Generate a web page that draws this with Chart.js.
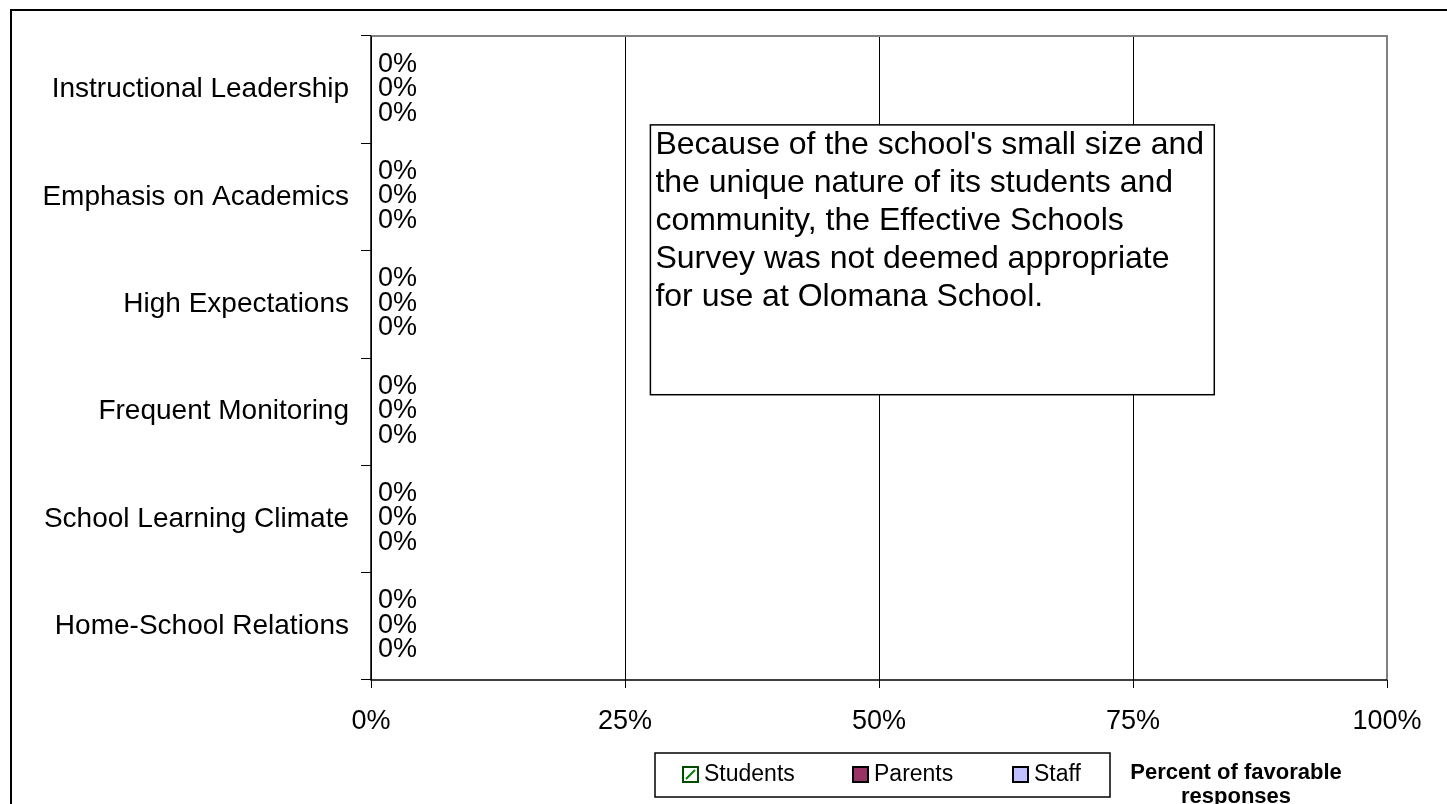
<!DOCTYPE html>
<html>
<head>
<meta charset="utf-8">
<title>Effective Schools Survey</title>
<script src="https://cdn.jsdelivr.net/npm/chart.js@4.4.1/dist/chart.umd.min.js"></script>
<style>
  html, body { margin: 0; padding: 0; background: #fff; overflow: hidden; }
  #chart { display: block; }
</style>
</head>
<body>
<canvas id="chart" width="1447" height="804"></canvas>
<script>
// categories (top to bottom)
const categories = [
  'Instructional Leadership',
  'Emphasis on Academics',
  'High Expectations',
  'Frequent Monitoring',
  'School Learning Climate',
  'Home-School Relations'
];

// series values (fraction of favorable responses)
const students = [0, 0, 0, 0, 0, 0];
const parents  = [0, 0, 0, 0, 0, 0];
const staff    = [0, 0, 0, 0, 0, 0];

// x axis ticks
const xTicks = [0, 0.25, 0.5, 0.75, 1];

const noteLines = [
  "Because of the school's small size and",
  'the unique nature of its students and',
  'community, the Effective Schools',
  'Survey was not deemed appropriate',
  'for use at Olomana School.'
];

const FONT = '"Liberation Sans", Arial, sans-serif';

// outer frame + plot border (gray top/right, black left/bottom axes)
const framePlugin = {
  id: 'frame',
  beforeDraw(chart) {
    const c = chart.ctx;
    c.save();
    c.fillStyle = '#fff';
    c.fillRect(0, 0, chart.width, chart.height);
    c.strokeStyle = '#000';
    c.lineWidth = 2;
    c.strokeRect(11, 10, 2000, 2000);
    c.restore();
  },
  afterDatasetsDraw(chart) {
    const a = chart.chartArea;
    const c = chart.ctx;
    c.save();
    c.strokeStyle = '#808080';
    c.lineWidth = 2;
    c.beginPath();
    c.moveTo(a.left, a.top);
    c.lineTo(a.right, a.top);
    c.lineTo(a.right, a.bottom);
    c.stroke();
    c.strokeStyle = '#000';
    c.lineWidth = 1.5;
    c.beginPath();
    c.moveTo(a.left, a.top);
    c.lineTo(a.left, a.bottom);
    c.lineTo(a.right, a.bottom);
    c.stroke();
    c.restore();
  }
};

// value labels at end of each bar
const valueLabels = {
  id: 'valueLabels',
  afterDatasetsDraw(chart) {
    const c = chart.ctx;
    c.save();
    c.font = '27px ' + FONT;
    c.fillStyle = '#000';
    c.textAlign = 'left';
    c.textBaseline = 'middle';
    chart.data.datasets.forEach((ds, i) => {
      chart.getDatasetMeta(i).data.forEach((el, j) => {
        c.fillText(Math.round(ds.data[j] * 100) + '%', el.x + 7, el.y - 1);
      });
    });
    c.restore();
  }
};

// text box note inside the plot
const notePlugin = {
  id: 'note',
  afterDraw(chart) {
    const a = chart.chartArea;
    const xs = chart.scales.x;
    const h = a.bottom - a.top;
    const x0 = xs.getPixelForValue(0.275);
    const x1 = xs.getPixelForValue(0.83);
    const y0 = a.top + h * 0.138;
    const y1 = a.top + h * 0.557;
    const c = chart.ctx;
    c.save();
    c.fillStyle = '#fff';
    c.fillRect(x0, y0, x1 - x0, y1 - y0);
    c.strokeStyle = '#000';
    c.lineWidth = 1.5;
    c.strokeRect(x0, y0, x1 - x0, y1 - y0);
    c.font = '32px ' + FONT;
    c.fillStyle = '#000';
    c.textAlign = 'left';
    c.textBaseline = 'alphabetic';
    noteLines.forEach((t, i) => c.fillText(t, x0 + 5, y0 + 29 + i * 38));
    c.restore();
  }
};

// boxed legend + axis caption at the bottom
const legendPlugin = {
  id: 'boxLegend',
  afterDraw(chart) {
    const c = chart.ctx;
    c.save();
    c.strokeStyle = '#000';
    c.lineWidth = 1.5;
    c.strokeRect(655, 753, 455, 44);
    const itemX = [683, 853, 1013];
    c.font = '23px ' + FONT;
    c.textBaseline = 'middle';
    chart.data.datasets.forEach((ds, i) => {
      const x = itemX[i], y = 767;
      c.fillStyle = ds.backgroundColor;
      c.fillRect(x, y, 15, 15);
      if (ds.hatch) {
        c.strokeStyle = ds.hatch;
        c.lineWidth = 2;
        c.beginPath();
        c.moveTo(x + 3, y + 12);
        c.lineTo(x + 12, y + 3);
        c.stroke();
      }
      c.strokeStyle = ds.legendBorder;
      c.lineWidth = 2;
      c.strokeRect(x, y, 15, 15);
      c.fillStyle = '#000';
      c.fillText(ds.label, x + 21, y + 8);
    });
    c.font = 'bold 22px ' + FONT;
    c.textAlign = 'center';
    c.fillText('Percent of favorable', 1236, 773);
    c.fillText('responses', 1236, 797);
    c.restore();
  }
};

new Chart(document.getElementById('chart'), {
  type: 'bar',
  data: {
    labels: categories,
    datasets: [
      { label: 'Students', data: students, backgroundColor: '#ffffff', hatch: '#008000', legendBorder: '#004d00', borderWidth: 0 },
      { label: 'Parents',  data: parents,  backgroundColor: '#993366', legendBorder: '#000', borderWidth: 0 },
      { label: 'Staff',    data: staff,    backgroundColor: '#c0c0ff', legendBorder: '#000', borderWidth: 0 }
    ]
  },
  options: {
    indexAxis: 'y',
    responsive: false,
    animation: false,
    devicePixelRatio: 1,
    categoryPercentage: 0.685,
    barPercentage: 1,
    layout: { padding: { top: 36, right: 60, left: 0, bottom: 0 } },
    plugins: {
      legend: { display: false },
      tooltip: { enabled: false }
    },
    scales: {
      x: {
        min: 0,
        max: 1,
        afterBuildTicks(scale) { scale.ticks = xTicks.map(v => ({ value: v })); },
        afterFit(scale) { scale.height = 124; },
        border: { display: false },
        grid: {
          color: ctx => (ctx.tick && ctx.tick.value === 1 ? 'rgba(0,0,0,0)' : '#000'),
          tickColor: '#000',
          lineWidth: 1,
          tickLength: 8
        },
        ticks: {
          color: '#000',
          padding: 17,
          maxRotation: 0,
          font: { family: FONT, size: 27 },
          callback: v => Math.round(v * 100) + '%'
        }
      },
      y: {
        afterFit(scale) { scale.width = 371; },
        border: { display: false },
        grid: {
          drawOnChartArea: false,
          offset: true,
          tickColor: '#000',
          lineWidth: 1,
          tickLength: 10
        },
        ticks: {
          color: '#000',
          padding: 12,
          font: { family: FONT, size: 28 }
        }
      }
    }
  },
  plugins: [framePlugin, valueLabels, notePlugin, legendPlugin]
});
</script>
</body>
</html>
